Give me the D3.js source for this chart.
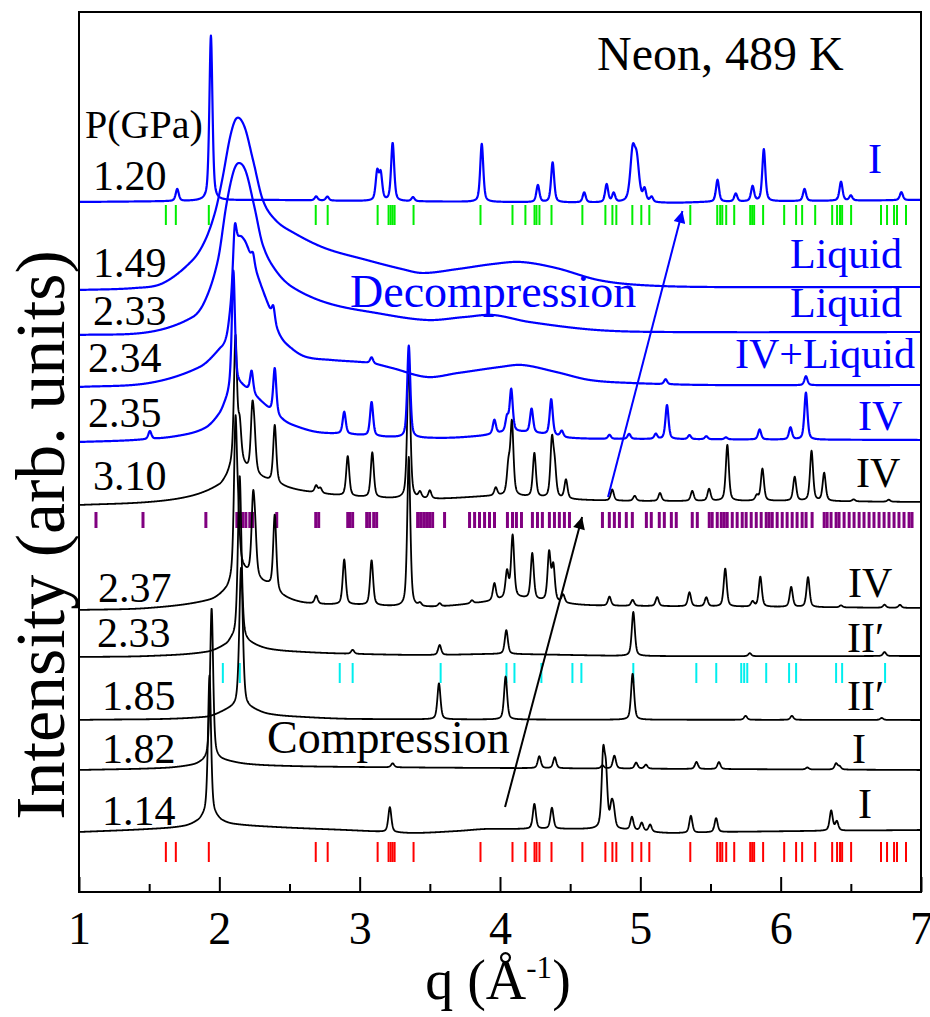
<!DOCTYPE html>
<html>
<head>
<meta charset="utf-8">
<title>Neon, 489 K</title>
<script src="https://d3js.org/d3.v7.min.js"></script>
<style>
    body { margin: 0; background: #fff; }
    svg { display: block; }
</style>
</head>
<body>
<svg id="chart"></svg>
<script>
// ---- data (intensity in arb. units) ----
const pressures = ["1.20", "1.49", "2.33", "2.34", "2.35", "3.10", "2.37", "2.33", "1.85", "1.82", "1.14"];
const phases    = ["I", "Liquid", "Liquid", "IV+Liquid", "IV", "IV", "IV", "II\u2032", "II\u2032", "I", "I"];
const runs      = ["dec", "dec", "dec", "dec", "dec", "comp", "comp", "comp", "comp", "comp", "comp"];
const offsets   = [690, 602, 557, 505, 450, 387, 282, 235, 172, 122, 60];

// smooth background / liquid scattering, [q, intensity]
const backgrounds = [
    [[1,0],[1.8,1],[2.3,2],[3,1],[5.2,-1],[5.5,0],[7,2]],
    [[1,0],[1.4,2],[1.6,7],[1.81,30],[1.9,50],[1.97,78],[2.02,110],[2.08,155],[2.125,172],[2.18,163],[2.24,130],[2.31,90],[2.4,70],[2.52,58],[2.75,42],[3.05,30],[3.3,21],[3.45,17],[3.7,21],[3.95,26],[4.15,28],[4.4,22],[4.7,10],[5.0,5],[5.5,3],[7,3]],
    [[1,0],[1.5,3],[1.81,18],[1.9,35],[1.99,75],[2.05,130],[2.1,163],[2.14,172],[2.19,163],[2.25,128],[2.31,90],[2.4,65],[2.52,48],[2.77,32],[3.12,22],[3.48,15],[3.75,18],[3.95,20],[4.21,13],[4.69,5],[5.2,3],[7,3]],
    [[1,0],[1.5,4],[1.86,20],[2.0,38],[2.05,50],[2.08,80],[2.11,130],[2.14,148],[2.18,146],[2.22,132],[2.28,108],[2.34,85],[2.43,52],[2.52,38],[2.62,30],[2.8,27],[3.07,24],[3.23,19],[3.48,10],[3.7,14],[4.0,20],[4.16,22],[4.4,15],[4.64,7],[4.94,4],[5.5,2],[7,2]],
    [[1,0],[1.4,2],[1.7,6],[1.9,14],[2.0,28],[2.05,42],[2.08,52],[2.12,58],[2.2,52],[2.3,40],[2.36,32],[2.45,22],[2.52,17],[2.69,10],[2.9,8],[3.2,5],[3.6,4],[3.85,6],[4.1,10],[4.3,8],[4.5,4],[5,3],[7,2]],
    [[1,0],[1.5,3],[1.8,9],[2.0,20],[2.05,28],[2.1,40],[2.15,42],[2.2,35],[2.3,27],[2.5,17],[2.7,12],[3,8],[3.5,6],[4,9],[4.3,7],[4.6,5],[5,4],[6,4],[7,3]],
    [[1,0],[1.5,2],[1.93,10],[2.05,20],[2.09,28],[2.15,40],[2.2,36],[2.3,28],[2.36,24],[2.45,14],[2.62,7],[3,5],[3.5,3],[3.9,8],[4.1,12],[4.3,9],[4.6,5],[5,4],[6,3],[7,2]],
    [[1,0],[1.5,1],[1.91,5],[2.05,12],[2.1,17],[2.2,14],[2.35,8],[2.6,5],[3,3],[3.5,2],[4,3],[5,1],[7,1]],
    [[1,0],[1.9,3],[2.1,12],[2.2,12],[2.35,6],[2.6,3],[3,1],[7,0]],
    [[1,0],[1.6,2],[1.81,5],[1.88,8],[1.95,12],[2.02,10],[2.2,6],[2.5,4],[3,3],[4,2],[7,0]],
    [[1,0],[1.5,3],[1.75,6],[1.85,11],[1.9,16],[1.96,16],[2.02,11],[2.1,8],[2.4,5],[2.9,2],[3.2,0],[3.4,-1],[3.7,1],[3.9,3],[4.1,3],[4.5,3],[4.9,2],[5.2,-1],[5.6,0],[6.2,1],[7,2]]
];

// Bragg peaks, [q, height, (half width)]
const peakLists = [
    [[1.70,12],[1.94,165],[2.69,4],[2.77,4],[3.125,28],[3.15,26],[3.235,58],[3.38,4],[3.87,58],[4.27,17],[4.375,40],[4.60,10],[4.76,18],[4.81,9],[4.945,48,0.02],[4.975,38,0.02],[5.03,12],[5.08,5],[5.55,22],[5.68,8],[5.80,15],[5.88,52],[6.17,12],[6.43,19],[6.50,5],[6.86,8]],
    [],
    [],
    [[2.11,32],[2.24,10],[2.385,14],[3.085,6],[5.18,5],[6.18,9]],
    [[1.505,8],[2.10,115],[2.23,22],[2.395,46],[2.89,22],[3.085,34],[3.35,92],[3.96,14],[4.05,14],[4.08,42],[4.225,24],[4.365,36],[4.44,6],[4.78,4],[4.92,5],[5.11,5],[5.19,34],[5.35,4],[5.47,3],[5.61,2],[5.85,10],[6.07,12],[6.18,47]],
    [[2.115,125],[2.145,35],[2.235,58],[2.25,30],[2.395,58],[2.69,7],[2.72,5],[2.915,40],[3.09,45],[3.35,140],[3.43,6],[3.50,8],[3.97,8],[4.06,28],[4.085,72],[4.245,44],[4.37,56],[4.39,28],[4.47,19],[4.80,11],[4.96,5],[5.14,8],[5.37,10],[5.49,12],[5.62,56],[5.83,5],[5.87,32],[6.10,24],[6.22,50],[6.31,28],[6.52,2],[6.77,2]],
    [[2.115,150],[2.135,40],[2.24,70],[2.255,35],[2.395,75],[2.69,8],[2.89,45],[3.085,45],[3.35,150],[3.43,3],[3.57,3],[3.80,3],[3.96,17],[4.05,26],[4.09,62],[4.23,46],[4.35,48],[4.38,35],[4.45,8],[4.78,9],[4.945,6],[5.12,9],[5.35,14],[5.47,9],[5.605,38],[5.80,5],[5.855,30],[6.075,20],[6.195,30],[6.43,2],[6.74,3],[6.85,3]],
    [[2.145,165,0.015],[2.95,4],[3.57,10],[4.045,24],[4.95,44],[5.78,3],[6.74,4]],
    [[2.155,140,0.015],[3.565,36],[4.04,43],[4.945,46],[5.75,4],[6.08,4],[6.72,2]],
    [[1.945,150],[3.235,4],[4.28,12],[4.39,11],[4.73,3],[4.815,13],[4.97,6],[5.04,4],[5.40,7],[5.56,7],[6.19,2],[6.395,6],[6.42,3]],
    [[1.93,140],[3.215,25],[4.245,25],[4.37,21],[4.735,70],[4.755,50],[4.795,20],[4.81,15],[4.94,13],[5.01,8],[5.07,7],[5.36,17],[5.54,14],[6.36,20],[6.40,9]]
];

// reflection markers, q
const ticksI = [1.619,1.690,1.925,2.687,2.772,3.128,3.206,3.221,3.235,3.249,3.384,3.861,4.089,4.181,4.246,4.260,4.281,4.367,4.587,4.751,4.801,4.829,4.943,5.007,5.064,5.356,5.548,5.569,5.584,5.612,5.669,5.783,5.797,5.811,5.875,6.025,6.110,6.153,6.246,6.367,6.402,6.423,6.438,6.502,6.715,6.758,6.808,6.829,6.893];
const ticksIV = [1.121,1.456,1.904,2.125,2.146,2.167,2.189,2.217,2.238,2.409,2.687,2.708,2.915,2.929,2.950,3.050,3.071,3.100,3.121,3.413,3.434,3.456,3.477,3.498,3.520,3.605,3.783,3.819,3.854,3.890,3.925,3.961,4.053,4.089,4.117,4.153,4.231,4.267,4.302,4.352,4.388,4.423,4.459,4.495,4.730,4.779,4.815,4.851,4.900,4.943,5.043,5.078,5.135,5.171,5.221,5.256,5.370,5.406,5.491,5.512,5.548,5.577,5.598,5.619,5.655,5.690,5.726,5.754,5.790,5.826,5.861,5.897,5.918,5.940,5.975,6.011,6.046,6.082,6.117,6.153,6.181,6.224,6.310,6.331,6.359,6.395,6.416,6.452,6.488,6.523,6.559,6.594,6.630,6.665,6.701,6.737,6.772,6.808,6.843,6.879,6.915,6.936];
const ticksII = [2.025,2.146,2.858,2.950,3.577,4.046,4.103,4.295,4.516,4.580,4.950,5.399,5.541,5.719,5.740,5.762,5.897,6.060,6.110,6.395,6.438,6.744];

const xTicks = [1, 2, 3, 4, 5, 6, 7];

// ---- drawing ----
const serif = "'Liberation Serif', 'Times New Roman', Times, serif";
const width = 930, height = 1017;
const svg = d3.select("#chart").attr("width", width).attr("height", height)
    .attr("font-family", serif);

const x = d3.scaleLinear().domain([1, 7]).range([79, 921]);
const y = d3.scaleLinear().domain([0, 880]).range([892, 12]);
const color = d3.scaleOrdinal(["dec", "comp"], ["#0000ff", "#000000"]);

function pv(d, w) {
    const t = d / w;
    return 0.5 / (1 + t * t) + 0.5 * Math.exp(-Math.LN2 * t * t);
}

function smooth(knots, q) {
    const n = knots.length;
    let i = d3.bisector(k => k[0]).right(knots, q) - 1;
    i = Math.max(0, Math.min(n - 2, i));
    const slope = j => {
        const a = knots[Math.max(0, j - 1)], b = knots[Math.min(n - 1, j + 1)];
        return (b[1] - a[1]) / (b[0] - a[0]);
    };
    const [x0, y0] = knots[i], [x1, y1] = knots[i + 1];
    const h = x1 - x0, t = (q - x0) / h, m0 = slope(i) * h, m1 = slope(i + 1) * h;
    const t2 = t * t, t3 = t2 * t;
    return (2*t3 - 3*t2 + 1) * y0 + (t3 - 2*t2 + t) * m0 + (-2*t3 + 3*t2) * y1 + (t3 - t2) * m1;
}

const qs = d3.range(1, 7.0001, 0.002);
const profiles = pressures.map((p, i) => qs.map(q => {
    let v = offsets[i] + smooth(backgrounds[i], q);
    for (const pk of peakLists[i]) v += pk[1] * pv(q - pk[0], pk[2] || 0.013);
    return [q, v];
}));

const line = d3.line().x(d => x(d[0])).y(d => y(d[1]));

// reflection tick rows
const rows = [
    {ticks: ticksI,  lo: 667, hi: 687, color: "#00ee00", w: 2},
    {ticks: ticksIV, lo: 364, hi: 380, color: "#800080", w: 3},
    {ticks: ticksII, lo: 209, hi: 229, color: "#00eeee", w: 2},
    {ticks: ticksI,  lo: 30,  hi: 50,  color: "#ff0000", w: 2}
];
rows.forEach(r => {
    svg.append("g").selectAll("line").data(r.ticks).join("line")
        .attr("x1", d => x(d)).attr("x2", d => x(d))
        .attr("y1", y(r.lo)).attr("y2", y(r.hi))
        .attr("stroke", r.color).attr("stroke-width", r.w);
});

// curves: compression (black) first, then decompression (blue)
const order = d3.range(pressures.length).sort((a, b) => d3.ascending(runs[a] === "dec", runs[b] === "dec"));
svg.append("g").attr("fill", "none").attr("stroke-linejoin", "round")
    .selectAll("path").data(order).join("path")
    .attr("d", i => line(profiles[i]))
    .attr("stroke", i => color(runs[i]))
    .attr("stroke-width", i => runs[i] === "dec" ? 2.2 : 1.8);

// frame and axis
svg.append("rect").attr("x", 79).attr("y", 12).attr("width", 842).attr("height", 880)
    .attr("fill", "none").attr("stroke", "#000").attr("stroke-width", 2);

const axis = svg.append("g").attr("transform", "translate(0,892)")
    .call(d3.axisBottom(x).tickValues(xTicks).tickFormat(d3.format("d")).tickSizeInner(-15).tickSizeOuter(0).tickPadding(19))
    .attr("font-family", serif).attr("font-size", 46);
axis.select(".domain").remove();
axis.selectAll(".tick line").attr("stroke-width", 2);
axis.selectAll(".tick text").attr("fill", "#000");

const minor = svg.append("g").attr("transform", "translate(0,892)")
    .call(d3.axisBottom(x).tickValues(d3.range(1.5, 7, 1)).tickFormat("").tickSizeInner(-8).tickSizeOuter(0));
minor.select(".domain").remove();
minor.selectAll(".tick line").attr("stroke-width", 2);

// axis titles
svg.append("text").attr("x", 498).attr("y", 999).attr("text-anchor", "middle")
    .attr("font-size", 56)
    .html('q (Å<tspan dy="-21" font-size="31">-1</tspan><tspan dy="21">)</tspan>');

svg.append("text").attr("transform", "translate(64,535) rotate(-90)")
    .attr("text-anchor", "middle").attr("font-size", 70)
    .text("Intensity (arb. units)");

// annotations
svg.append("text").attr("x", 597).attr("y", 70).attr("font-size", 48).text("Neon, 489 K");
svg.append("text").attr("x", 85).attr("y", 138).attr("font-size", 40).text("P(GPa)");

const leftPos = [[93,190],[93,277],[93,325],[88,372],[88,427],[93,490],[98,602],[97,647],[102,710],[102,763],[102,825]];
const rightPos = [[868,173],[790,268],[790,317],[735,368],[858,430],[856,487],[848,597],[847,652],[847,710],[852,763],[858,818]];

svg.append("g").attr("font-size", 42).selectAll("text").data(pressures).join("text")
    .attr("x", (d, i) => leftPos[i][0]).attr("y", (d, i) => leftPos[i][1])
    .text(d => d);

svg.append("g").attr("font-size", 42).selectAll("text").data(phases).join("text")
    .attr("x", (d, i) => rightPos[i][0]).attr("y", (d, i) => rightPos[i][1])
    .attr("fill", (d, i) => color(runs[i]))
    .text(d => d);

svg.append("text").attr("x", 350).attr("y", 307).attr("font-size", 46).attr("fill", "#0000ff").text("Decompression");
svg.append("text").attr("x", 267).attr("y", 753).attr("font-size", 46).attr("fill", "#000").text("Compression");

// arrows
const defs = svg.append("defs");
["dec", "comp"].forEach(k => {
    defs.append("marker").attr("id", "arrow-" + k)
        .attr("viewBox", "0 0 10 10").attr("refX", 10).attr("refY", 5)
        .attr("markerUnits", "userSpaceOnUse").attr("markerWidth", 20).attr("markerHeight", 12)
        .attr("orient", "auto")
        .append("path").attr("d", "M0,0L10,5L0,10z").attr("fill", color(k));
});
const arrows = [
    {run: "dec",  from: [4.77, 395], to: [5.30, 681]},
    {run: "comp", from: [4.036, 85], to: [4.585, 375]}
];
svg.append("g").selectAll("line").data(arrows).join("line")
    .attr("x1", d => x(d.from[0])).attr("y1", d => y(d.from[1]))
    .attr("x2", d => x(d.to[0])).attr("y2", d => y(d.to[1]))
    .attr("stroke", d => color(d.run)).attr("stroke-width", 2)
    .attr("marker-end", d => `url(#arrow-${d.run})`);
</script>
</body>
</html>
